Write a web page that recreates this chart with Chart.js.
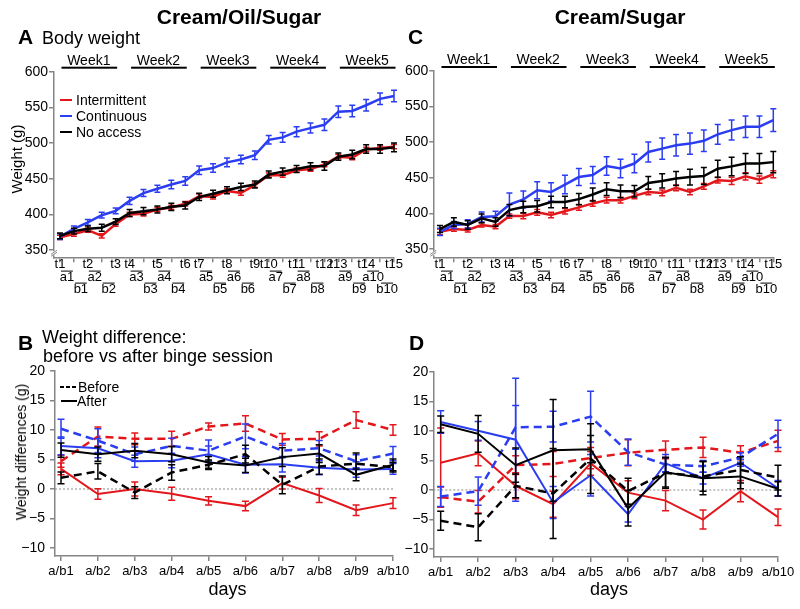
<!DOCTYPE html>
<html><head><meta charset="utf-8">
<script src="https://cdn.jsdelivr.net/npm/chart.js@4.4.1/dist/chart.umd.min.js"></script>
<style>
html,body{margin:0;padding:0;background:#fff;}
#wrap{position:relative;width:800px;height:609px;overflow:hidden;font-family:'Liberation Sans',Arial,sans-serif;color:#000;}
#wrap canvas{position:absolute;left:0;top:0;}
.t{position:absolute;white-space:nowrap;line-height:1;}
.b{font-weight:bold;}
.mk{position:absolute;height:2px;}
</style></head><body>
<div id="wrap">
<canvas id="cA" width="800" height="609"></canvas>
<canvas id="cC" width="800" height="609"></canvas>
<canvas id="cB" width="800" height="609"></canvas>
<canvas id="cD" width="800" height="609"></canvas>

<div class="t b" style="left:119px;top:6px;width:240px;text-align:center;font-size:21px;">Cream/Oil/Sugar</div>
<div class="t b" style="left:500px;top:6px;width:240px;text-align:center;font-size:21px;">Cream/Sugar</div>
<div class="t b" style="left:18px;top:26px;font-size:21px;">A</div>
<div class="t" style="left:42px;top:29px;font-size:18px;">Body weight</div>
<div class="t b" style="left:408px;top:26px;font-size:21px;">C</div>
<div class="t b" style="left:18px;top:332px;font-size:21px;">B</div>
<div class="t" style="left:42px;top:328px;font-size:18px;">Weight difference:</div>
<div class="t" style="left:43px;top:347px;font-size:18px;">before vs after binge session</div>
<div class="t b" style="left:409px;top:332px;font-size:21px;">D</div>

<div class="mk" style="left:60px;top:99px;width:12px;background:#e3171b"></div>
<div class="t" style="left:76px;top:93px;font-size:14px;">Intermittent</div>
<div class="mk" style="left:60px;top:115px;width:12px;background:#2b3df0"></div>
<div class="t" style="left:76px;top:109px;font-size:14px;">Continuous</div>
<div class="mk" style="left:60px;top:131px;width:12px;background:#000"></div>
<div class="t" style="left:76px;top:125px;font-size:14px;">No access</div>

<div class="mk" style="left:60px;top:385.5px;width:4px;height:2.5px;background:#000"></div>
<div class="mk" style="left:66px;top:385.5px;width:4px;height:2.5px;background:#000"></div>
<div class="mk" style="left:72px;top:385.5px;width:4px;height:2.5px;background:#000"></div>
<div class="t" style="left:78px;top:380px;font-size:14px;">Before</div>
<div class="mk" style="left:61px;top:399.5px;width:16px;height:2.5px;background:#000"></div>
<div class="t" style="left:77px;top:394px;font-size:14px;">After</div>

<div class="t" style="left:16px;top:158.5px;font-size:15px;transform:translate(-50%,-50%) rotate(-90deg);">Weight (g)</div>
<div class="t" style="left:21px;top:452px;font-size:14px;transform:translate(-50%,-50%) rotate(-90deg);">Weight differences (g)</div>
<div class="t" style="left:177.5px;top:580px;width:100px;text-align:center;font-size:18px;">days</div>
<div class="t" style="left:559px;top:580px;width:100px;text-align:center;font-size:18px;">days</div>
</div>
<script>
// ---------- labels ----------
const weekLabels = ['Week1','Week2','Week3','Week4','Week5'];
const tLabels = ['t1','t2','t3','t4','t5','t6','t7','t8','t9','t10','t11','t12','t13','t14','t15'];
const aLabels = ['a1','a2','a3','a4','a5','a6','a7','a8','a9','a10'];
const bLabels = ['b1','b2','b3','b4','b5','b6','b7','b8','b9','b10'];
const dayLabels = ['a/b1','a/b2','a/b3','a/b4','a/b5','a/b6','a/b7','a/b8','a/b9','a/b10'];
// index of each weighing in the sequence of 25 measurements
const measurePoints = [0,1,2,3,4,5,6,7,8,9,10,11,12,13,14,15,16,17,18,19,20,21,22,23,24];
const tPositions = [0,2,4,5,7,9,10,12,14,15,17,19,20,22,24];
const midPositions = [1,3,6,8,11,13,16,18,21,23];
const weekSpans = [[0,4],[5,9],[10,14],[15,19],[20,24]];
const dayPoints = [0,1,2,3,4,5,6,7,8,9];
const weightTicks = [350,400,450,500,550,600];
const diffTicks = [-10,-5,0,5,10,15,20];

// ---------- Panel A: Cream/Oil/Sugar body weight ----------
const A_intermittent = [368,372.6,378,370,386.5,400,401,407,409.8,415,425.6,424.6,433,430,441,455,455,462,463.7,470,481,479.5,491,493,495];
const A_intermittent_err = [3,3,3,3,3,3,3,3,3,3,3,3,3,3,3,3,3,3,3,3,3,3,3,3,3];
const A_continuous = [369,380,389,399,405,419,430,436,442,447,462,465,473,477,483,504.6,508,516,521,525.6,544,545,553,562,566];
const A_continuous_err = [4,4,4,4,4,5,5,5,6,6,6,6,6,6,6,6,7,7,7,8,8,8,8,8,8];
const A_noaccess = [370,376.7,380,381.4,390,402,404.6,407,410.7,412.6,424.6,429,434,438.6,442,456,460,463.7,467.4,468,481,484,491.6,491.6,494];
const A_noaccess_err = [4,4,4,5,4,5,5,5,5,5,5,5,5,5,5,5,5,5,5,6,5,6,6,6,6];

// ---------- Panel C: Cream/Sugar body weight ----------
const C_intermittent = [374,378,376.7,383.7,381.4,396.3,396.3,401.4,397.7,403,408.4,414,418.6,418.6,424.6,430,428.8,435.8,430,438,446.5,445.6,452,447.4,455];
const C_intermittent_err = [4,3,3,3,3,3,4,4,4,4,4,4,4,4,4,4,4,4,4,4,4,5,5,5,5];
const C_continuous = [374,383.7,385,395,396,412.5,419.5,432.5,430,440.5,451,454,466.5,463,470,486.3,491,495.7,498,502,511,517,521.7,521.7,531];
const C_continuous_err = [5,5,6,7,7,16,12,12,13,13,12,12,13,13,13,14,15,15,15,15,14,14,15,15,16];
const C_noaccess = [378,388,383.7,393,388,404.6,409,410,416,416,420,426.5,434,431,431,442.8,445.6,449,451,452.5,462.8,466,470,470,472];
const C_noaccess_err = [5,6,6,6,6,8,8,8,8,8,8,9,9,9,8,9,10,10,11,12,12,13,14,14,15];

// ---------- Panel B: Cream/Oil/Sugar weight difference ----------
const B_int_after = [3.4,-0.85,0,-0.8,-2.0,-2.9,1.0,-1.1,-3.6,-2.4];
const B_int_after_err = [1.0,0.9,1.2,1.1,0.7,0.8,1.0,1.2,0.9,0.9];
const B_int_before = [4.7,8.9,8.5,8.5,10.6,11.1,8.4,8.5,11.7,10.0];
const B_int_before_err = [1.0,1.6,1.0,1.3,0.6,1.3,1.0,1.2,1.4,0.9];
const B_con_after = [7.3,6.9,4.7,4.8,5.9,4.1,4.2,3.6,3.3,3.4];
const B_con_after_err = [1.5,1.6,1.0,1.2,1.4,1.4,1.3,1.2,1.3,0.9];
const B_con_before = [10.2,8.2,5.9,7.3,6.5,8.9,6.5,6.9,4.7,6.0];
const B_con_before_err = [1.6,2.0,1.2,1.3,1.8,2.1,1.2,1.3,1.1,1.2];
const B_no_after = [6.6,5.9,6.5,5.9,4.5,4.0,5.4,6.0,2.4,4.1];
const B_no_after_err = [1.2,1.2,1.2,1.3,1.0,1.2,1.6,1.5,1.0,1.0];
const B_no_before = [1.9,3.0,-0.6,2.8,4.1,5.9,0.7,3.8,4.3,3.7];
const B_no_before_err = [1.0,1.3,1.0,1.3,0.8,1.5,1.5,1.3,1.8,0.8];

// ---------- Panel D: Cream/Sugar weight difference ----------
const D_int_after = [4.6,6.2,0.7,-2.4,4.5,-0.45,-1.8,-5.0,-0.2,-4.6];
const D_int_after_err = [5.9,2.1,2.2,2.2,2.0,2.0,1.7,1.6,1.8,1.4];
const D_int_before = [-1.2,-2.0,4.2,4.4,5.4,6.3,6.8,7.2,6.3,8.3];
const D_int_before_err = [1.7,1.9,1.6,2.1,1.8,2.2,1.5,1.7,1.2,1.8];
const D_con_after = [11.5,10.0,8.5,-2.1,2.5,-4.1,4.5,2.0,4.6,0.3];
const D_con_after_err = [1.9,1.6,10.4,2.7,3.5,1.3,1.5,1.0,0.6,1.3];
const D_con_before = [-1.1,-0.2,10.6,10.7,12.4,6.4,4.3,4.0,5.5,9.5];
const D_con_before_err = [1.7,2.4,3.7,2.6,4.3,2.2,1.2,1.0,0.8,2.3];
const D_no_after = [11.1,9.5,4.2,6.7,6.9,-3.1,3.0,2.0,2.3,0.2];
const D_no_after_err = [1.4,3.1,2.9,8.6,2.3,3.0,2.5,2.8,2.1,1.2];
const D_no_before = [-5.2,-6.3,0.7,-0.6,5.3,-0.2,2.9,2.3,3.4,2.1];
const D_no_before_err = [1.6,2.3,2.0,7.6,5.9,2.2,2.6,2.5,2.2,2.1];

// ---------- styling ----------
const RED = '#e3171b', BLUE = '#2b3df0', BLACK = '#000000', AX = '#858585';
const FONT = "'Liberation Sans', Arial, sans-serif";
Chart.defaults.font.family = FONT;
Chart.defaults.color = '#000';

function series(values, errors, color, dashed, width){
  return {data: values.map((v,i)=>({x:i,y:v})), errors, borderColor:color, backgroundColor:color,
    borderWidth:width, borderDash: dashed?[8,5]:[], pointRadius:0, pointHoverRadius:0,
    tension:0, fill:false, clip:false};
}

const errPlugin = {
  id:'errbars',
  afterDatasetDraw(chart, args, opts){
    const ds = chart.data.datasets[args.index];
    if(!ds.errors) return;
    const xs = chart.scales.x, ys = chart.scales.y, ctx = chart.ctx;
    const cap = opts.cap || 3;
    ctx.save();
    ctx.strokeStyle = ds.borderColor; ctx.lineWidth = opts.width || 1.5; ctx.setLineDash([]);
    ds.data.forEach((p,i)=>{
      const e = ds.errors[i];
      const x = xs.getPixelForValue(p.x);
      const y1 = ys.getPixelForValue(p.y+e), y2 = ys.getPixelForValue(p.y-e);
      ctx.beginPath();
      ctx.moveTo(x,y1); ctx.lineTo(x,y2);
      ctx.moveTo(x-cap,y1); ctx.lineTo(x+cap,y1);
      ctx.moveTo(x-cap,y2); ctx.lineTo(x+cap,y2);
      ctx.stroke();
    });
    ctx.restore();
  }
};

const weightDecor = {
  id:'weightDecor',
  afterDraw(chart){
    const xs = chart.scales.x, ca = chart.chartArea, ctx = chart.ctx;
    const px = v => xs.getPixelForValue(v);
    ctx.save();
    ctx.fillStyle = '#000'; ctx.strokeStyle = '#000';
    // time-point labels
    ctx.font = '13px ' + FONT; ctx.textAlign = 'center'; ctx.textBaseline = 'middle';
    tLabels.forEach((l,i)=>ctx.fillText(l, px(tPositions[i]), ca.bottom + 7.5));
    midPositions.forEach((m,i)=>{
      const x0 = px(m-1), xm = px(m), x1 = px(m+1);
      ctx.fillText(aLabels[i], (x0+xm)/2, ca.bottom + 20.5);
      ctx.fillText(bLabels[i], (xm+x1)/2, ca.bottom + 32.5);
      ctx.lineWidth = 1;
      ctx.beginPath();
      ctx.moveTo(x0+1, ca.bottom + 13.8); ctx.lineTo(xm-1, ca.bottom + 13.8);
      ctx.moveTo(xm+1, ca.bottom + 25.8); ctx.lineTo(x1-1, ca.bottom + 25.8);
      ctx.stroke();
    });
    // week labels
    ctx.font = '14px ' + FONT; ctx.textBaseline = 'alphabetic';
    weekSpans.forEach((s,i)=>{
      const x0 = px(s[0]), x1 = px(s[1]);
      ctx.fillText(weekLabels[i], (x0+x1)/2 + 1, ca.top - 7);
      ctx.fillRect(x0+1.5, ca.top - 5, x1 - x0, 2);
    });
    // axis break mark
    ctx.fillStyle = '#fff';
    ctx.fillRect(ca.left-2, ca.bottom-6, 4, 4);
    ctx.strokeStyle = AX; ctx.lineWidth = 1;
    ctx.beginPath();
    ctx.moveTo(ca.left-3, ca.bottom-3); ctx.lineTo(ca.left+3, ca.bottom-7);
    ctx.moveTo(ca.left-3, ca.bottom-1); ctx.lineTo(ca.left+3, ca.bottom-5);
    ctx.stroke();
    ctx.restore();
  }
};

const zeroLine = {
  id:'zeroLine',
  beforeDatasetsDraw(chart){
    const ys = chart.scales.y, ca = chart.chartArea, ctx = chart.ctx;
    const y0 = ys.getPixelForValue(0);
    ctx.save();
    ctx.strokeStyle = '#888'; ctx.lineWidth = 1; ctx.setLineDash([2,2]);
    ctx.beginPath(); ctx.moveTo(ca.left, y0); ctx.lineTo(ca.right, y0); ctx.stroke();
    ctx.restore();
  }
};

function xAxis(min, max, ticks, labelFn, h, pad){
  return {type:'linear', min, max,
    afterBuildTicks: s => { s.ticks = ticks.map(v=>({value:v})); },
    ticks:{autoSkip:false, maxRotation:0, minRotation:0, callback:labelFn, font:{size:13}, color:'#000', padding:pad},
    grid:{display:true, drawOnChartArea:false, drawTicks:true, tickLength:5, color:AX, lineWidth:1.5},
    border:{display:true, color:AX, width:1.5},
    afterFit: s => { s.height = h; }};
}
function yAxis(min, max, ticks, tickLen, pad){
  return {type:'linear', min, max,
    afterBuildTicks: s => { s.ticks = ticks.map(v=>({value:v})); },
    ticks:{autoSkip:false, font:{size:14}, color:'#000', padding:pad,
      callback: v => v < 0 ? '\u2212' + Math.abs(v) : String(v)},
    grid:{display:true, drawOnChartArea:false, drawTicks:true, tickLength:tickLen, color:AX, lineWidth:1.5},
    border:{display:true, color:AX, width:1.5},
    afterFit: s => { s.width = 40; }};
}
function baseOptions(padding, scales, cap){
  return {responsive:false, animation:false, events:[], devicePixelRatio:1,
    layout:{padding},
    plugins:{legend:{display:false}, tooltip:{enabled:false}, errbars:{cap, width:1.5}},
    scales};
}

// Panel A
new Chart(document.getElementById('cA'), {
  type:'line',
  data:{datasets:[
    series(A_noaccess, A_noaccess_err, BLACK, false, 2.5),
    series(A_continuous, A_continuous_err, BLUE, false, 2.5),
    series(A_intermittent, A_intermittent_err, RED, false, 2.5)
  ]},
  options: baseOptions({left:14, top:71.7, right:406, bottom:341.7}, {
    x: xAxis(-0.43, 24, measurePoints, () => '', 10, 0),
    y: yAxis(340, 600, weightTicks, 5, 1)
  }, 3),
  plugins:[errPlugin, weightDecor]
});

// Panel C
new Chart(document.getElementById('cC'), {
  type:'line',
  data:{datasets:[
    series(C_noaccess, C_noaccess_err, BLACK, false, 2.5),
    series(C_continuous, C_continuous_err, BLUE, false, 2.5),
    series(C_intermittent, C_intermittent_err, RED, false, 2.5)
  ]},
  options: baseOptions({left:393.3, top:71, right:26.7, bottom:341.7}, {
    x: xAxis(-0.48, 24, measurePoints, () => '', 10, 0),
    y: yAxis(338.3, 600, weightTicks, 4, 1)
  }, 3),
  plugins:[errPlugin, weightDecor]
});

// Panel B
new Chart(document.getElementById('cB'), {
  type:'line',
  data:{datasets:[
    series(B_no_after, B_no_after_err, BLACK, false, 2),
    series(B_no_before, B_no_before_err, BLACK, true, 2.5),
    series(B_con_after, B_con_after_err, BLUE, false, 2),
    series(B_con_before, B_con_before_err, BLUE, true, 2.5),
    series(B_int_after, B_int_after_err, RED, false, 2),
    series(B_int_before, B_int_before_err, RED, true, 2.5)
  ]},
  options: baseOptions({left:15, top:371, right:407, bottom:23}, {
    x: xAxis(-0.163, 9, dayPoints, v => dayLabels[v], 30, 3),
    y: yAxis(-11.36, 20, diffTicks, 5, 5)
  }, 3.5),
  plugins:[zeroLine, errPlugin]
});

// Panel D
new Chart(document.getElementById('cD'), {
  type:'line',
  data:{datasets:[
    series(D_no_after, D_no_after_err, BLACK, false, 2),
    series(D_no_before, D_no_before_err, BLACK, true, 2.5),
    series(D_con_after, D_con_after_err, BLUE, false, 2),
    series(D_con_before, D_con_before_err, BLUE, true, 2.5),
    series(D_int_after, D_int_after_err, RED, false, 2),
    series(D_int_before, D_int_before_err, RED, true, 2.5)
  ]},
  options: baseOptions({left:393.3, top:371.7, right:22, bottom:22}, {
    x: xAxis(-0.197, 9, dayPoints, v => dayLabels[v], 30, 3),
    y: yAxis(-11.33, 20, diffTicks, 4, 1)
  }, 3.5),
  plugins:[zeroLine, errPlugin]
});
</script>
</body></html>
